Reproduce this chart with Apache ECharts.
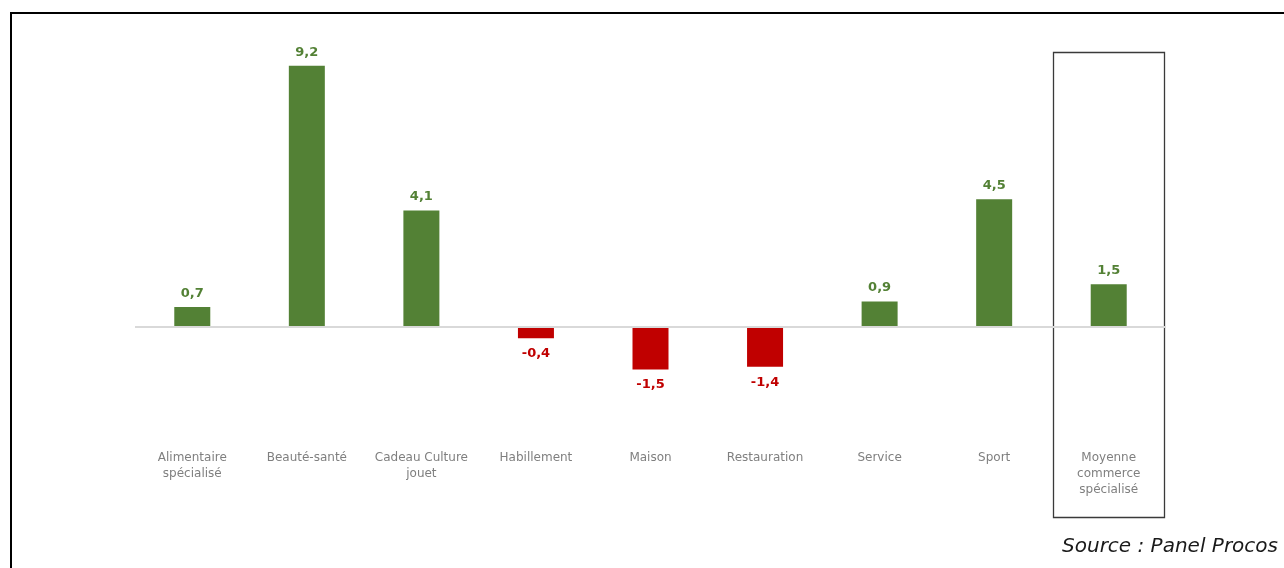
<!DOCTYPE html>
<html>
<head>
<meta charset="utf-8">
<script src="https://cdn.jsdelivr.net/npm/echarts@6/dist/echarts.min.js"></script>
<style>
  html, body { margin: 0; padding: 0; background: #fff; }
  #chart { width: 1284px; height: 568px; }
</style>
</head>
<body>
<div id="chart"></div>
<script>
// Évolution par secteur (en points)
const categories = [
  'Alimentaire\nspécialisé',
  'Beauté-santé',
  'Cadeau Culture\njouet',
  'Habillement',
  'Maison',
  'Restauration',
  'Service',
  'Sport',
  'Moyenne\ncommerce\nspécialisé'
];
const values = [0.7, 9.2, 4.1, -0.4, -1.5, -1.4, 0.9, 4.5, 1.5];
const sourceText = 'Source : Panel Procos';

const GREEN = '#538135';
const RED = '#c00000';
const FONT = '"DejaVu Sans", sans-serif';

const chart = echarts.init(document.getElementById('chart'), null, { renderer: 'canvas' });

const fmt = v => String(v).replace('.', ',');

chart.setOption({
  animation: false,
  backgroundColor: '#ffffff',
  grid: { left: 135, right: 118, top: 43, bottom: 127.5, containLabel: false },
  xAxis: {
    type: 'category',
    data: categories,
    axisLine: { show: false },
    axisTick: { show: false },
    axisLabel: {
      interval: 0,
      margin: 9,
      color: '#7f7f7f',
      fontFamily: FONT,
      fontSize: 12,
      lineHeight: 16
    }
  },
  yAxis: {
    type: 'value',
    min: -4,
    max: 10,
    show: false
  },
  series: [{
    type: 'bar',
    barWidth: 36,
    data: values.map(v => ({
      value: v,
      itemStyle: { color: v >= 0 ? GREEN : RED },
      label: {
        show: true,
        position: v >= 0 ? 'top' : 'bottom',
        distance: v >= 0 ? 7 : 9,
        color: v >= 0 ? GREEN : RED,
        fontFamily: FONT,
        fontWeight: 'bold',
        fontSize: 13,
        formatter: p => fmt(p.value)
      }
    })),
    markLine: {
      silent: true,
      symbol: 'none',
      label: { show: false },
      lineStyle: { color: '#d9d9d9', width: 2, type: 'solid' },
      data: [{ yAxis: 0 }]
    }
  }]
});

// Cadre de la dernière catégorie (moyenne) et cadre général
function drawDecor() {
  const last = categories.length - 1;
  const cx = chart.convertToPixel({ xAxisIndex: 0 }, last);
  const top = chart.convertToPixel({ yAxisIndex: 0 }, 9.7);
  const band = chart.convertToPixel({ xAxisIndex: 0 }, 1) - chart.convertToPixel({ xAxisIndex: 0 }, 0);
  const half = band / 2 - 2;
  chart.setOption({
    graphic: [
      {
        type: 'rect',
        shape: { x: Math.round(cx - half) + 0.5, y: Math.round(top) + 0.5, width: Math.round(half * 2), height: 465 },
        style: { fill: 'none', stroke: '#3a3a3a', lineWidth: 1.3 },
        silent: true
      },
      {
        type: 'line',
        shape: { x1: 10, y1: 13, x2: 1284, y2: 13 },
        style: { stroke: '#000', lineWidth: 2 },
        silent: true
      },
      {
        type: 'line',
        shape: { x1: 11, y1: 12, x2: 11, y2: 568 },
        style: { stroke: '#000', lineWidth: 2 },
        silent: true
      },
      {
        type: 'text',
        right: 6,
        top: 537,
        style: {
          text: sourceText,
          fill: '#1a1a1a',
          font: 'italic 20px "DejaVu Sans", sans-serif'
        },
        silent: true
      }
    ]
  });
}
drawDecor();
</script>
</body>
</html>
